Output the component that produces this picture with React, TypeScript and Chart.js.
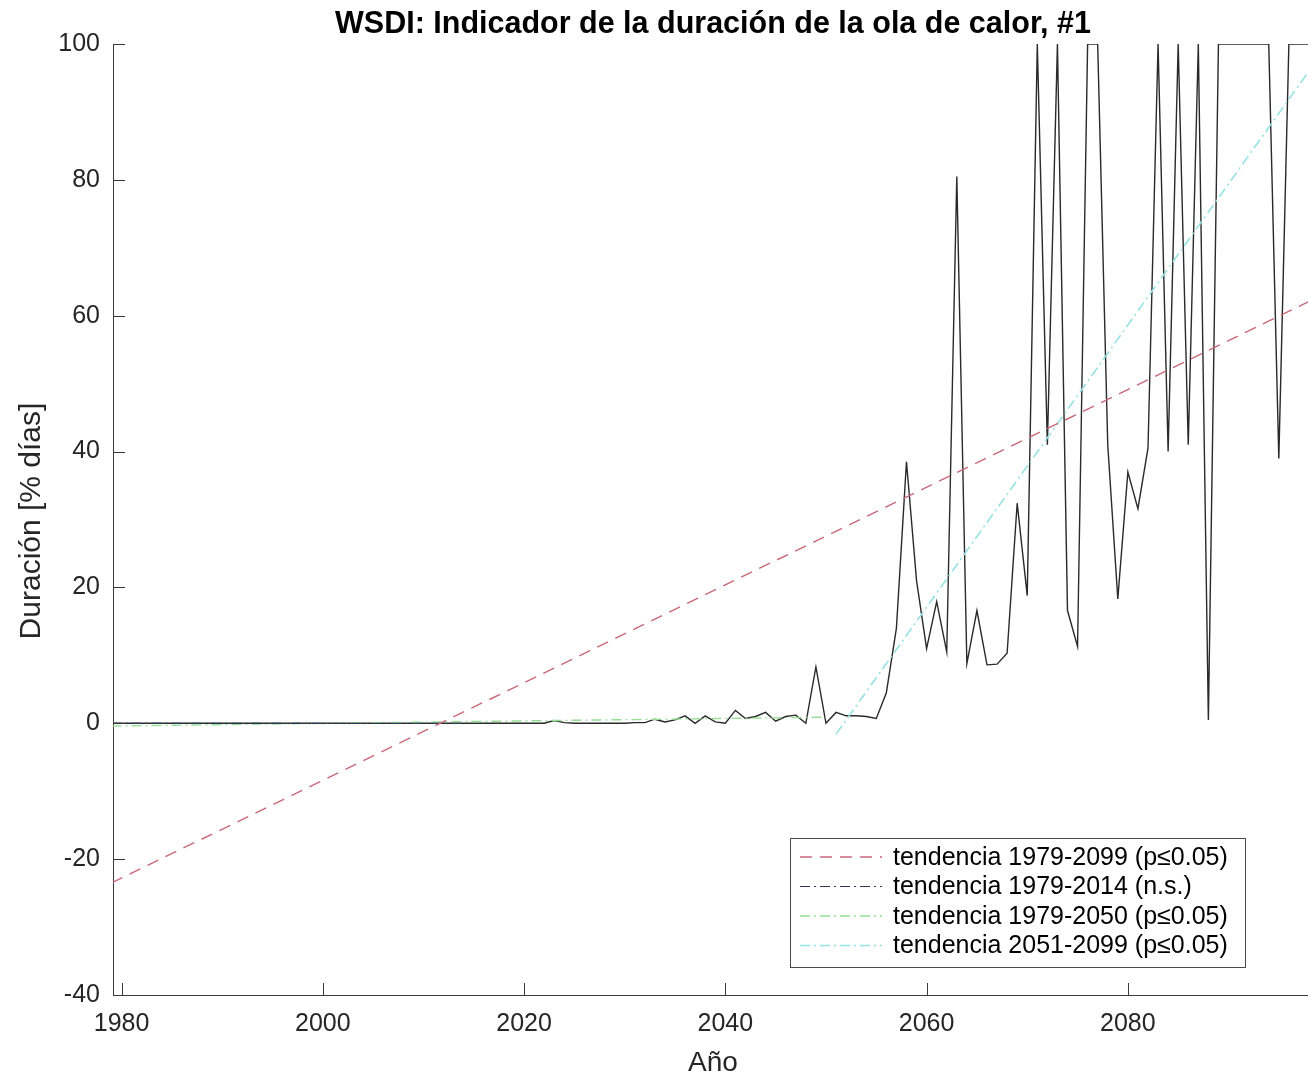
import React, { useEffect, useRef } from "react";
import { Chart, registerables } from "chart.js";

Chart.register(...registerables);

// ---------- DATA ----------
const years: number[] = [
  1979,
  1980, 1981, 1982, 1983, 1984, 1985, 1986, 1987, 1988, 1989,
  1990, 1991, 1992, 1993, 1994, 1995, 1996, 1997, 1998, 1999,
  2000, 2001, 2002, 2003, 2004, 2005, 2006, 2007, 2008, 2009,
  2010, 2011, 2012, 2013, 2014, 2015, 2016, 2017, 2018, 2019,
  2020, 2021, 2022, 2023, 2024, 2025, 2026, 2027, 2028, 2029,
  2030, 2031, 2032, 2033, 2034, 2035, 2036, 2037, 2038, 2039,
  2040, 2041, 2042, 2043, 2044, 2045, 2046, 2047, 2048, 2049,
  2050, 2051, 2052, 2053, 2054, 2055, 2056, 2057, 2058, 2059,
  2060, 2061, 2062, 2063, 2064, 2065, 2066, 2067, 2068, 2069,
  2070, 2071, 2072, 2073, 2074, 2075, 2076, 2077, 2078, 2079,
  2080, 2081, 2082, 2083, 2084, 2085, 2086, 2087, 2088, 2089,
  2090, 2091, 2092, 2093, 2094, 2095, 2096, 2097, 2098, 2099,
];

const wsdiValues: number[] = [
  0,
  0, 0, 0, 0, 0, 0, 0, 0, 0, 0,
  0, 0, 0, 0, 0, 0, 0, 0, 0, 0,
  0, 0, 0, 0, 0, 0, 0, 0, 0, 0,
  0, 0, 0, 0, 0, 0, 0, 0, 0, 0,
  0, 0, 0, 0.4, 0.1, 0, 0, 0, 0, 0,
  0, 0.1, 0.1, 0.6, 0.2, 0.5, 1.1, 0, 1.1, 0.2,
  0, 1.9, 0.7, 1.0, 1.6, 0.3, 1.0, 1.2, 0, 8.3,
  0, 1.6, 1.1, 1.1, 1.0, 0.7, 4.5, 14, 38.5, 21,
  11, 17.9, 10.5, 80.5, 8.8, 16.6, 8.6, 8.7, 10.3, 32.4,
  18.8, 100, 41, 100, 16.6, 11.3, 100, 100, 41, 18.3,
  37, 31.6, 40.5, 100, 40, 100, 41, 100, 0.5, 100,
  100, 100, 100, 100, 100, 39, 100, 100, 100, 100,
];

const trendAllYears = [1979, 2099];
const trendAllValues = [-23.5, 62.8];
const trendHistYears = [1979, 2014];
const trendHistValues = [0, 0];
const trendMidYears = [1979, 2050];
const trendMidValues = [-0.4, 0.9];
const trendLateYears = [2051, 2099];
const trendLateValues = [-1.6, 98.1];

const xTicks = [1980, 2000, 2020, 2040, 2060, 2080];
const yTicks = [-40, -20, 0, 20, 40, 60, 80, 100];

const legendLabels = [
  "tendencia 1979-2099 (p\u22640.05)",
  "tendencia 1979-2014 (n.s.)",
  "tendencia 1979-2050 (p\u22640.05)",
  "tendencia 2051-2099 (p\u22640.05)",
];

const titleText = "WSDI: Indicador de la duración de la ola de calor, #1";
const xTitle = "Año";
const yTitle = "Duración [% días]";

// ---------- STYLE ----------
const FONT = '"Liberation Sans", Arial, Helvetica, sans-serif';
const TEXT = "#262626";
const AXIS = "#3a3a3a";
const W = 1308;
const H = 1078;

const trendStyles = [
  { color: "rgb(201,104,120)", dash: [12, 8], width: 1.4 },
  { color: "rgb(45,55,85)", dash: [10, 4, 2, 4], width: 1.2 },
  { color: "rgb(150,222,150)", dash: [10, 4, 2, 4], width: 1.4 },
  { color: "rgb(150,226,226)", dash: [10, 4, 2, 4], width: 1.6 },
];

const pts = (xs: number[], ys: number[]) => xs.map((x, i) => ({ x, y: ys[i] }));

const decorPlugin = {
  id: "decor",
  afterDraw(chart: any) {
    const { ctx, chartArea: ca, scales } = chart;
    const xs = scales.x;
    const ys = scales.y;
    ctx.save();
    // inward ticks
    ctx.strokeStyle = AXIS;
    ctx.lineWidth = 1;
    ctx.setLineDash([]);
    ctx.beginPath();
    for (const v of xTicks) {
      const px = Math.round(xs.getPixelForValue(v)) + 0.5;
      ctx.moveTo(px, ca.bottom);
      ctx.lineTo(px, ca.bottom - 12);
    }
    for (const v of yTicks) {
      const py = Math.round(ys.getPixelForValue(v)) + 0.5;
      ctx.moveTo(ca.left, py);
      ctx.lineTo(ca.left + 12, py);
    }
    ctx.stroke();

    // title
    ctx.fillStyle = "#000";
    ctx.font = `bold 30.5px ${FONT}`;
    ctx.textAlign = "center";
    ctx.textBaseline = "alphabetic";
    ctx.fillText(titleText, 713, 33);

    // axis titles
    ctx.fillStyle = TEXT;
    ctx.font = `28px ${FONT}`;
    ctx.fillText(xTitle, 713, 1071);
    ctx.save();
    ctx.translate(40, 521);
    ctx.rotate(-Math.PI / 2);
    ctx.font = `30px ${FONT}`;
    ctx.textBaseline = "alphabetic";
    ctx.fillText(yTitle, 0, 0);
    ctx.restore();

    // legend
    const lx = 790.5, ly = 838.5, lw = 455, lh = 129;
    ctx.fillStyle = "#fff";
    ctx.fillRect(lx, ly, lw, lh);
    ctx.strokeStyle = "#4a4a4a";
    ctx.lineWidth = 1;
    ctx.strokeRect(lx, ly, lw, lh);
    ctx.font = `25px ${FONT}`;
    ctx.textAlign = "left";
    ctx.textBaseline = "middle";
    legendLabels.forEach((lab, i) => {
      const yy = 857 + i * 29.5;
      const st = trendStyles[i];
      ctx.strokeStyle = st.color;
      ctx.lineWidth = st.width;
      ctx.setLineDash(st.dash);
      ctx.beginPath();
      ctx.moveTo(800, yy);
      ctx.lineTo(882, yy);
      ctx.stroke();
      ctx.setLineDash([]);
      ctx.fillStyle = "#000";
      ctx.fillText(lab, 893, yy + 1);
    });
    ctx.restore();
  },
};

export default function App() {
  const ref = useRef<HTMLCanvasElement | null>(null);

  useEffect(() => {
    if (!ref.current) return;
    const trendSets = [
      pts(trendAllYears, trendAllValues),
      pts(trendHistYears, trendHistValues),
      pts(trendMidYears, trendMidValues),
      pts(trendLateYears, trendLateValues),
    ].map((d, i) => ({
      data: d,
      borderColor: trendStyles[i].color,
      borderWidth: trendStyles[i].width,
      borderDash: trendStyles[i].dash,
      pointRadius: 0,
      fill: false,
      tension: 0,
    }));

    const chart = new Chart(ref.current, {
      type: "line",
      data: {
        datasets: [
          ...trendSets,
          {
            data: pts(years, wsdiValues),
            borderColor: "#2a2a2a",
            borderWidth: 1.4,
            pointRadius: 0,
            fill: false,
            tension: 0,
          },
        ],
      },
      options: {
        responsive: false,
        animation: false,
        devicePixelRatio: 1,
        layout: { padding: { top: 44, left: 0, right: 0, bottom: 0 } },
        plugins: {
          legend: { display: false },
          title: { display: false },
          tooltip: { enabled: false },
        },
        scales: {
          x: {
            type: "linear",
            min: 1979.15,
            max: 2097.9,
            afterBuildTicks: (s: any) => {
              s.ticks = xTicks.map((v) => ({ value: v }));
            },
            afterFit: (s: any) => {
              s.height = H - 995;
            },
            grid: { display: false, drawTicks: false },
            border: { display: true, color: AXIS, width: 1 },
            ticks: {
              font: { family: FONT, size: 25 },
              color: TEXT,
              padding: 14,
              maxRotation: 0,
              autoSkip: false,
              callback: (v: any) => String(v),
            },
          },
          y: {
            type: "linear",
            min: -40,
            max: 100,
            afterBuildTicks: (s: any) => {
              s.ticks = yTicks.map((v) => ({ value: v }));
            },
            afterFit: (s: any) => {
              s.width = 113;
            },
            grid: { display: false, drawTicks: false },
            border: { display: true, color: AXIS, width: 1 },
            ticks: {
              font: { family: FONT, size: 25 },
              color: TEXT,
              padding: 13,
              autoSkip: false,
              callback: (v: any) => String(v),
            },
          },
        },
      },
      plugins: [decorPlugin],
    });
    return () => chart.destroy();
  }, []);

  return (
    <div style={{ position: "absolute", left: 0, top: 0, width: W, height: H, background: "#fff" }}>
      <canvas ref={ref} width={W} height={H} style={{ display: "block", width: W, height: H }} />
    </div>
  );
}
